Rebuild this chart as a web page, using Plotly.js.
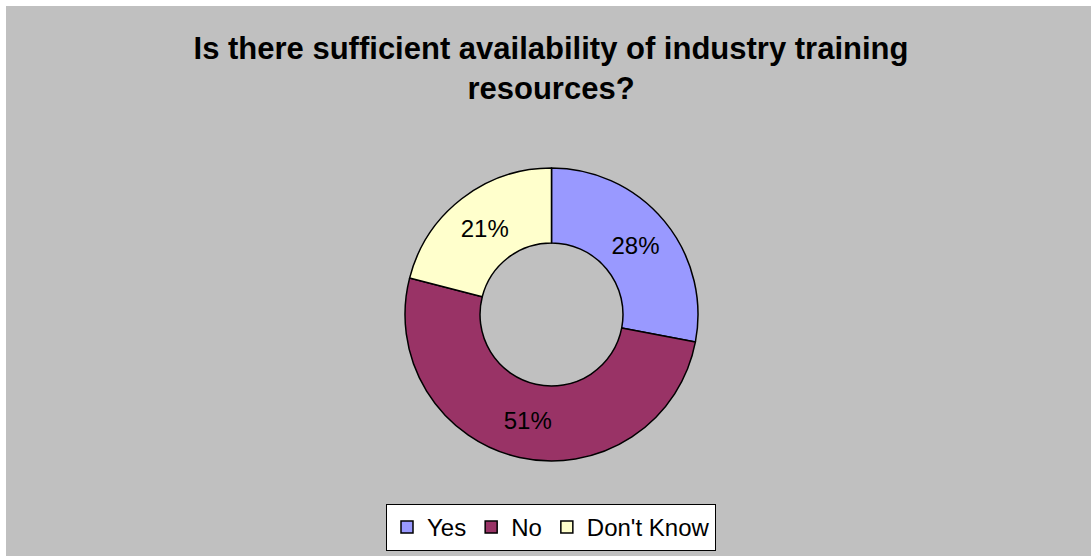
<!DOCTYPE html>
<html>
<head>
<meta charset="utf-8">
<script src="https://cdn.plot.ly/plotly-3.0.1.min.js"></script>
<style>
html,body{margin:0;padding:0;background:#ffffff;}
#chart{position:absolute;left:6px;top:6px;width:1085px;height:550px;}
</style>
</head>
<body>
<div id="chart"></div>
<script>
const categories = ["Yes", "No", "Don't Know"];
const values = [28, 51, 21];
const colors = ["#9999FF", "#993366", "#FFFFCC"];
const titleText = "Is there sufficient availability of industry training<br>resources?";

const font = "Arial, 'Liberation Sans', sans-serif";

const data = [{
  type: "pie",
  labels: categories,
  values: values,
  sort: false,
  direction: "clockwise",
  rotation: 0,
  hole: 0.488,
  marker: {colors: colors, line: {color: "#000000", width: 1.5}},
  texttemplate: "%{percent:.0%}",
  textposition: "inside",
  insidetextorientation: "horizontal",
  textfont: {family: font, size: 24, color: "#000000"},
  hoverinfo: "none",
  domain: {x: [399/1085, 692/1085], y: [1 - 455/550, 1 - 162/550]}
}];

const layout = {
  width: 1085,
  height: 550,
  margin: {l: 0, r: 0, t: 0, b: 0},
  paper_bgcolor: "#C0C0C0",
  plot_bgcolor: "#C0C0C0",
  title: {
    text: titleText,
    font: {family: font, size: 31, color: "#000000", weight: "bold"},
    x: 545/1085,
    xanchor: "center",
    xref: "paper",
    y: 1 - 53/550,
    yanchor: "top",
    yref: "container"
  },
  showlegend: true,
  legend: {
    orientation: "h",
    x: 545/1085,
    xanchor: "center",
    y: 1 - 498/550,
    yanchor: "top",
    bgcolor: "#FFFFFF",
    bordercolor: "#000000",
    borderwidth: 1,
    font: {family: font, size: 24, color: "#000000"},
    traceorder: "normal"
  }
};

Plotly.newPlot("chart", data, layout, {displayModeBar: false, staticPlot: true});
</script>
</body>
</html>
